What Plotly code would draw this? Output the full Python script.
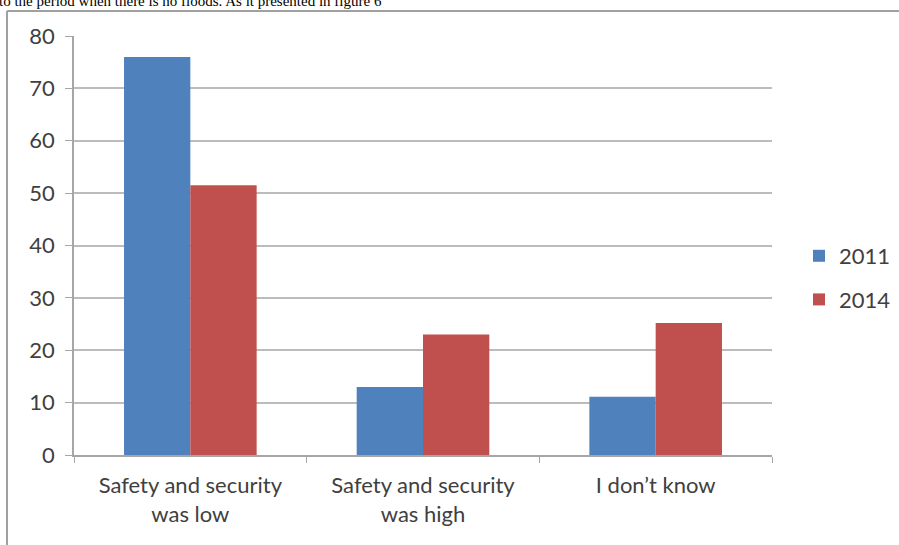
import plotly.graph_objects as go

categories = ["Safety and security<br>was low", "Safety and security<br>was high", "I don\u2019t know"]
series_names = ["2011", "2014"]
values_2011 = [76, 13, 11.1]
values_2014 = [51.5, 23, 25.2]
y_ticks = [0, 10, 20, 30, 40, 50, 60, 70, 80]
caption = "to the period when there is no floods. As it presented in figure 6"

colors = ["#4F81BD", "#C0504D"]

fig = go.Figure()
for i, (name, vals, c) in enumerate(zip(series_names, [values_2011, values_2014], colors)):
    fig.add_trace(go.Bar(x=categories, y=vals, name=name, legendgroup=f"g{i}",
                         marker=dict(color=c, line=dict(width=0))))

L, R, T, B = 74, 127, 36, 90
W, H = 899, 545
pw, ph = W - L - R, H - T - B

def px(xp):
    return (xp - L) / pw

def py(yp):
    return (H - B - yp) / ph

fig.update_layout(
    width=W, height=H,
    margin=dict(l=L, r=R, t=T, b=B, pad=0, autoexpand=False),
    paper_bgcolor="white", plot_bgcolor="white",
    barmode="group", bargap=0.43, bargroupgap=0,
    font=dict(family="Lato, Open Sans, sans-serif", size=22, color="#404040"),
    legend=dict(x=px(799), y=py(235), xanchor="left", yanchor="top",
                font=dict(size=22, color="#404040"), tracegroupgap=12,
                itemwidth=30, bgcolor="rgba(0,0,0,0)"),
    xaxis=dict(showgrid=False, showline=True, linecolor="#a6a6a6", linewidth=1.5,
               ticks="outside", tickson="boundaries", ticklen=6, tickcolor="#a6a6a6",
               tickfont=dict(size=22, color="#404040"), ticklabelstandoff=10,
               automargin=False),
    yaxis=dict(range=[0, 80], tickvals=y_ticks, showgrid=True, gridcolor="#bcbcbc",
               gridwidth=1.5, showline=True, linecolor="#a6a6a6", linewidth=1.5,
               ticks="outside", ticklen=7, tickcolor="#a6a6a6", zeroline=False,
               tickfont=dict(size=22, color="#404040"), ticklabelstandoff=6,
               automargin=False),
    shapes=[
        dict(type="line", xref="paper", yref="paper",
             x0=px(7), x1=px(899), y0=py(11), y1=py(11),
             line=dict(color="#a0a0a0", width=2), layer="below"),
        dict(type="line", xref="paper", yref="paper",
             x0=px(7), x1=px(7), y0=py(11), y1=py(545),
             line=dict(color="#a0a0a0", width=2), layer="below"),
    ],
    annotations=[dict(text=caption, xref="paper", yref="paper",
                      x=px(-3), y=py(11), xanchor="left", yanchor="bottom",
                      showarrow=False,
                      font=dict(family="Liberation Serif, serif", size=15, color="#000000"))],
)

fig.write_html("out.html")
